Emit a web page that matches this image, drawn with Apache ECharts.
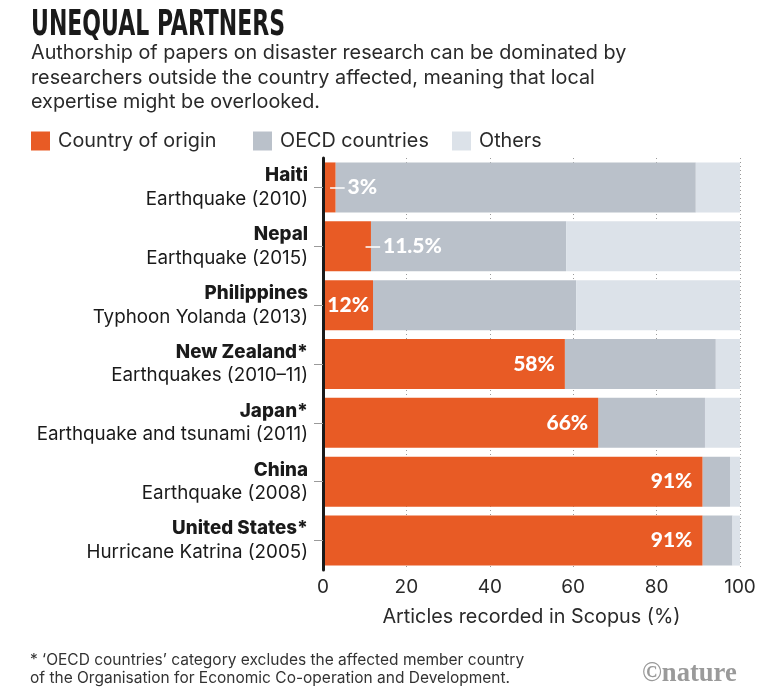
<!DOCTYPE html>
<html>
<head>
<meta charset="utf-8">
<script src="https://cdn.jsdelivr.net/npm/echarts@6/dist/echarts.min.js"></script>
<style>
html,body{margin:0;padding:0;background:#fff;}
#c{width:767px;height:699px;}
</style>
</head>
<body>
<div id="c"></div>
<script>
// ---- data ----
var countries = ['Haiti', 'Nepal', 'Philippines', 'New Zealand*', 'Japan*', 'China', 'United States*'];
var events = ['Earthquake (2010)', 'Earthquake (2015)', 'Typhoon Yolanda (2013)', 'Earthquakes (2010\u201311)', 'Earthquake and tsunami (2011)', 'Earthquake (2008)', 'Hurricane Katrina (2005)'];
var originValues = [3, 11.5, 12, 58, 66, 91, 91];
var oecdValues = [86.4, 46.8, 48.7, 36.2, 25.6, 6.6, 7.2];
var otherValues = [10.6, 41.7, 39.3, 5.8, 8.4, 2.4, 1.8];
var originLabels = ['3%', '11.5%', '12%', '58%', '66%', '91%', '91%'];
var xTicks = [0, 20, 40, 60, 80, 100];
var seriesNames = ['Country of origin', 'OECD countries', 'Others'];

var ORANGE = '#E85B25', GRAY = '#BAC1CA', LIGHT = '#DCE2E9';
var SANS = 'Inter, Lato, sans-serif';
var BOLDSANS = 'Lato, Inter, sans-serif';

var chart = echarts.init(document.getElementById('c'));

var originData = originValues.map(function (v, i) {
  var outside = v < 12;
  return {
    value: v,
    label: {
      show: true,
      formatter: originLabels[i],
      position: outside ? 'right' : 'insideRight',
      distance: outside ? 12 : (v > 40 ? 10 : 4),
      color: '#fff',
      fontFamily: BOLDSANS,
      fontWeight: 900,
      fontSize: 21
    }
  };
});
// leader lines for labels placed outside the orange bar
var leaders = [];
originValues.forEach(function (v, i) {
  if (v < 12) {
    leaders.push([{ coord: [v - 1.3, i] }, { coord: [v + 2.2, i] }]);
  }
});

var option = {
  animation: false,
  backgroundColor: '#fff',
  textStyle: { fontFamily: SANS },
  title: [
    {
      text: 'Authorship of papers on disaster research can be dominated by\nresearchers outside the country affected, meaning that local\nexpertise might be overlooked.',
      left: 31, top: 41, padding: 0,
      textStyle: { fontFamily: SANS, fontWeight: 400, fontSize: 19.8, lineHeight: 24.5, color: '#2a2a2a' }
    },
    {
      text: '* \u2018OECD countries\u2019 category excludes the affected member country\nof the Organisation for Economic Co-operation and Development.',
      left: 30, top: 651, padding: 0,
      textStyle: { fontFamily: SANS, fontWeight: 400, fontSize: 15.5, lineHeight: 18, color: '#333' }
    }
  ],
  graphic: [
    {
      type: 'text', x: 31, y: 8, scaleX: 0.68,
      style: { text: 'UNEQUAL PARTNERS', font: 'bold 36px "Liberation Sans Narrow", "DejaVu Sans Condensed", sans-serif', fill: '#1a1a1a' }
    },
    {
      type: 'text', x: 642, y: 660, scaleX: 0.95,
      style: { text: '\u00A9nature', font: 'bold 28px "Liberation Serif", "DejaVu Serif", serif', fill: '#9a9a9a' }
    }
  ],
  legend: seriesNames.map(function (n, i) {
    return {
      data: [n], left: [31, 253, 452][i], top: 131,
      itemWidth: 19, itemHeight: 19, icon: 'rect', selectedMode: false,
      padding: 0,
      textStyle: { fontFamily: SANS, fontSize: 19.8, color: '#2a2a2a', padding: [0, 0, 0, 3] }
    };
  }),
  grid: { left: 323, right: 27, top: 158, bottom: 129, containLabel: false },
  xAxis: {
    type: 'value', min: 0, max: 100, interval: 20,
    axisLine: { show: false }, axisTick: { show: false },
    axisLabel: {
      margin: 8, fontSize: 19, color: '#2a2a2a', fontFamily: SANS,
      formatter: function (v) { return xTicks.indexOf(v) >= 0 ? String(v) : ''; }
    },
    splitLine: { show: true, lineStyle: { color: '#9a9a9a', type: [1, 3], width: 1 } },
    name: 'Articles recorded in Scopus (%)', nameLocation: 'middle', nameGap: 37,
    nameTextStyle: { fontSize: 19.8, color: '#2a2a2a', fontFamily: SANS }
  },
  yAxis: {
    type: 'category', inverse: true, data: countries, z: 10,
    axisLine: { show: true, lineStyle: { color: '#1a1a1a', width: 3 } },
    axisTick: { show: true, alignWithLabel: true, length: 9, lineStyle: { color: '#9a9a9a', width: 1 } },
    axisLabel: {
      margin: 15, align: 'right',
      formatter: function (v, i) { return '{b|' + v + '}\n{n|' + events[i] + '}'; },
      rich: {
        b: { fontFamily: SANS, fontWeight: 800, fontSize: 18.8, lineHeight: 23.5, color: '#1a1a1a', align: 'right' },
        n: { fontFamily: SANS, fontWeight: 400, fontSize: 18.8, lineHeight: 23.5, color: '#1a1a1a', align: 'right' }
      }
    },
    splitLine: { show: false }
  },
  series: [
    {
      name: seriesNames[0], type: 'bar', stack: 'a', z: 3, barWidth: 50,
      itemStyle: { color: ORANGE }, data: originData,
      markLine: {
        silent: true, symbol: 'none', z: 6, animation: false,
        label: { show: false },
        lineStyle: { color: '#fff', width: 1.5, type: 'solid' },
        emphasis: { disabled: true },
        data: leaders
      }
    },
    { name: seriesNames[1], type: 'bar', stack: 'a', barWidth: 50, itemStyle: { color: GRAY }, data: oecdValues },
    { name: seriesNames[2], type: 'bar', stack: 'a', barWidth: 50, itemStyle: { color: LIGHT }, data: otherValues }
  ]
};
chart.setOption(option);
</script>
</body>
</html>
